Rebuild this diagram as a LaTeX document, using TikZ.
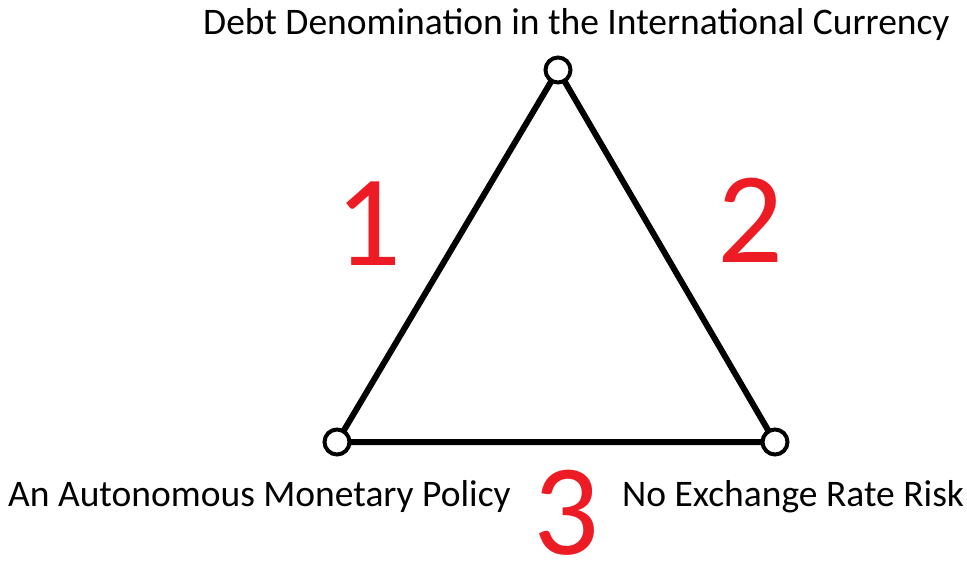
\documentclass[tikz,border=0pt]{standalone}
\usepackage{fontspec}
\setmainfont{Carlito}
\definecolor{numred}{RGB}{237,28,36}
\begin{document}
\begin{tikzpicture}[x=1pt,y=-1pt,
  vtx/.style={circle,draw=black,line width=4pt,fill=white,minimum size=25pt,inner sep=0pt},
  side/.style={line width=6pt,black},
  lbl/.style={inner sep=0pt,anchor=base west,font=\fontsize{37.5}{40}\selectfont},
  num/.style={inner sep=0pt,anchor=base west,text=numred,font=\fontsize{130}{132}\selectfont}]
\useasboundingbox (0,0) rectangle (967,565);
\coordinate (T) at (558,70);
\coordinate (L) at (337,442);
\coordinate (R) at (775,442);
\draw[side] (T) -- (L) -- (R) -- cycle;
\node[vtx] (vt) at (T) {};
\node[vtx] (vl) at (L) {};
\node[vtx] (vr) at (R) {};
\node[lbl] (top) at (203,34) {Debt Denomination in the International Currency};
\node[lbl] (bl) at (8,506) {An Autonomous Monetary Policy};
\node[lbl] (br) at (622,506) {No Exchange Rate Risk};
\node[num] (n1) at (335,265) {1};
\node[num] (n2) at (717,262) {2};
\node[num] (n3) at (533,554) {3};
\end{tikzpicture}
\end{document}
